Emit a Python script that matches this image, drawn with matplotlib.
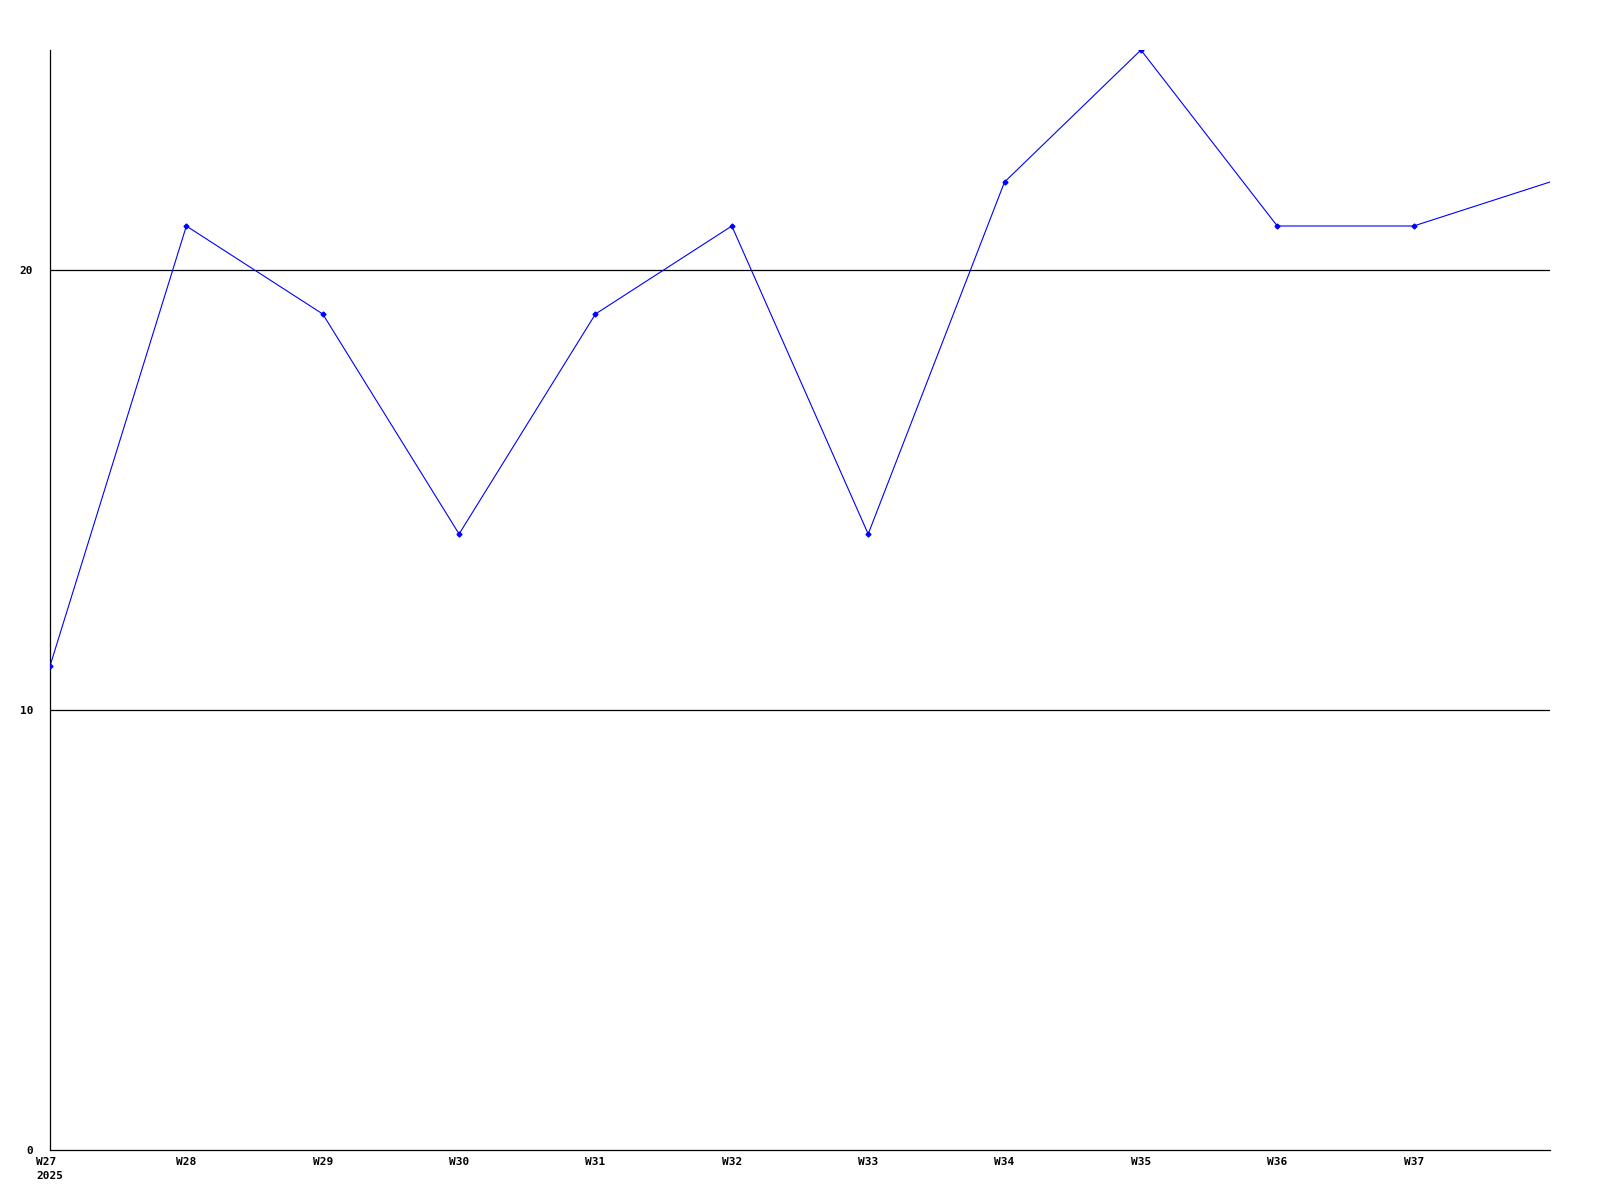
import matplotlib
matplotlib.use("Agg")
import matplotlib.pyplot as plt

weeks = ["W27", "W28", "W29", "W30", "W31", "W32", "W33", "W34", "W35", "W36", "W37", "W38"]
values = [11, 21, 19, 14, 19, 21, 14, 22, 25, 21, 21, 22]
tick_labels = ["W27\n2025", "W28", "W29", "W30", "W31", "W32", "W33", "W34", "W35", "W36", "W37"]
y_ticks = [0, 10, 20]

plt.rcParams['font.family'] = ['DejaVu Sans Mono']
plt.rcParams['font.weight'] = 'bold'

fig = plt.figure(figsize=(16, 12), dpi=100)
ax = fig.add_axes([50/1600, 50/1200, 1500/1600, 1100/1200])

x = list(range(len(weeks)))
ax.plot(x, values, color='#0000ff', linewidth=0.8, marker='D', markersize=2.5,
        markevery=list(range(len(weeks) - 1)), zorder=3)

for yv in [10, 20]:
    ax.axhline(yv, color='black', linewidth=0.9, zorder=1)

ax.set_xlim(0, len(weeks) - 1)
ax.set_ylim(0, 25)
ax.set_xticks(range(len(tick_labels)))
labels = ax.set_xticklabels(tick_labels, fontsize=8, fontweight='bold', linespacing=1.55)
labels[0].set_multialignment('left')
ax.set_yticks(y_ticks)
ax.set_yticklabels([str(v) for v in y_ticks], fontsize=8, fontweight='bold')
ax.tick_params(axis='both', length=0)
ax.tick_params(axis='x', pad=5)
ax.tick_params(axis='y', pad=12)

for s in ['top', 'right']:
    ax.spines[s].set_visible(False)
for s in ['left', 'bottom']:
    ax.spines[s].set_linewidth(0.9)

fig.savefig("out.png", dpi=100)
